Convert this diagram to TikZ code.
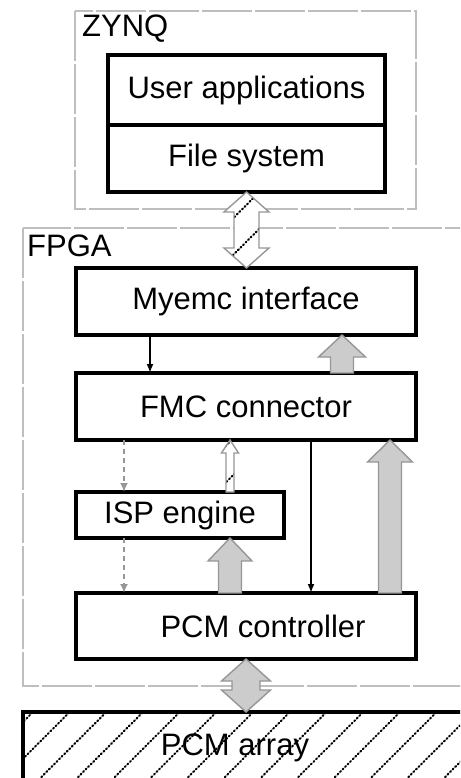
\documentclass[tikz,border=0pt]{standalone}
\usepackage{fontspec}
\setmainfont{Liberation Sans}
\usetikzlibrary{arrows.meta,calc}
\tikzset{>=latex}

% Couleurs / Colours
\definecolor{cadregris}{RGB}{190,190,190}
\definecolor{grisfond}{RGB}{204,204,204}
\definecolor{grisbord}{RGB}{150,150,150}

\tikzset{
  bloc/.style={draw=black, line width=3.4pt, inner sep=0pt, outer sep=0pt, anchor=north west},
  etiquette/.style={anchor=base west, inner sep=0pt},
  cadre/.style={draw=cadregris, line width=1.8pt, dash pattern=on 50pt off 3pt},
  filfleche/.style={-{Latex[length=9pt,width=7pt]}, black, line width=2pt},
  pointille/.style={-{Latex[length=9pt,width=8pt]}, grisbord, line width=1.8pt, dash pattern=on 5pt off 4pt},
  hachure/.style={black, line width=2pt, dash pattern=on 1.2pt off 2.4pt, line cap=round},
  % hachures calées sur l'origine / hatching tied to the origin
  hachurefond/.style={path picture={\foreach \i in {-25,...,14} \draw[hachure] ($(origine)+({-55+36.7*\i},800)$) -- ++(800,-800);}},
  grosse/.style={fill=grisfond, draw=grisbord, line width=1.4pt},
  creuse/.style={fill=white, draw=grisbord, line width=1.4pt, hachurefond},
}

% Grosse flèche verticale : [style]{départ}{pointe}{demi-largeur tige}{demi-largeur tête}{longueur tête}
% Block arrow: [style]{start}{tip}{shaft half width}{head half width}{head length}
\newcommand{\flechebloc}[6][grosse]{%
  \coordinate (fb) at ($(#3)!#6!(#2)$);
  \path[#1] ($(#2)+(-#4,0)$) -- ($(fb)+(-#4,0)$) -- ($(fb)+(-#5,0)$) -- (#3)
    -- ($(fb)+(#5,0)$) -- ($(fb)+(#4,0)$) -- ($(#2)+(#4,0)$) -- cycle;}

% Même chose avec deux pointes / Same with two heads
\newcommand{\flechedouble}[6][grosse]{%
  \coordinate (fa) at ($(#2)!#6!(#3)$);
  \coordinate (fb) at ($(#3)!#6!(#2)$);
  \path[#1] (#2) -- ($(fa)+(#5,0)$) -- ($(fa)+(#4,0)$) -- ($(fb)+(#4,0)$) -- ($(fb)+(#5,0)$) -- (#3)
    -- ($(fb)+(-#5,0)$) -- ($(fb)+(-#4,0)$) -- ($(fa)+(-#4,0)$) -- ($(fa)+(-#5,0)$) -- cycle;}

\begin{document}
\begin{tikzpicture}[x=1pt, y=-1pt, every node/.style={font=\fontsize{31}{36}\selectfont}]

% Zone de dessin (en pixels de l'image de départ)
% Drawing area (in pixels of the source picture)
\clip (0,0) rectangle (460,778);
\coordinate (origine) at (0,0);

% Cadres pointillés / Dashed frames
\draw[cadre] (75,11) rectangle (416,209);
\draw[cadre] (23,228) rectangle (490,686);
\node[etiquette] (zynq) at (82,37) {ZYNQ};
\node[etiquette] (fpga) at (27,256) {FPGA};

% Blocs / Blocks
\node[bloc, minimum width=277, minimum height=70] (user) at (108,55) {User applications};
\node[bloc, minimum width=277, minimum height=67] (fs) at (user.south west) {File system};
\node[bloc, minimum width=340, minimum height=67] (myemc) at (76,268) {Myemc interface};
\node[bloc, minimum width=340, minimum height=67] (fmc) at (76,373) {FMC connector};
\node[bloc, minimum width=208, minimum height=46] (isp) at (76,492) {ISP engine};
\node[bloc, minimum width=340, minimum height=66] (pcm) at (76,593) {\hspace*{34pt}PCM controller};
\node[bloc, minimum width=480, minimum height=72, hachurefond] (array) at (23,712) {\hspace*{-56pt}PCM array};

% Points d'attache / Attachment points
\coordinate (zq) at (myemc.north -| fs.south);
\coordinate (m1) at ($(myemc.south west)+(74,0)$);
\coordinate (f1) at ($(fmc.north west)+(74,0)$);
\coordinate (m2) at ($(myemc.south west)+(266,0)$);
\coordinate (f2) at ($(fmc.north west)+(266,0)$);
\coordinate (f3) at ($(fmc.south west)+(48,0)$);
\coordinate (i3) at ($(isp.north west)+(48,0)$);
\coordinate (f4) at ($(fmc.south west)+(154,0)$);
\coordinate (i4) at ($(isp.north west)+(154,0)$);
\coordinate (f5) at ($(fmc.south west)+(235,0)$);
\coordinate (p5) at ($(pcm.north west)+(235,0)$);
\coordinate (f6) at ($(fmc.south west)+(314,0)$);
\coordinate (p6) at ($(pcm.north west)+(314,0)$);
\coordinate (i7) at ($(isp.south west)+(48,0)$);
\coordinate (p7) at ($(pcm.north west)+(48,0)$);
\coordinate (i8) at ($(isp.south west)+(154,0)$);
\coordinate (p8) at ($(pcm.north west)+(154,0)$);
\coordinate (a9) at (array.north -| pcm.south);

% Flèches / Arrows
\flechedouble[creuse]{fs.south}{zq}{12.5}{22.5}{20pt}
\draw[filfleche] (m1) -- (f1);
\flechebloc{f2}{m2}{11.5}{23.5}{22pt}
\draw[pointille] (f3) -- (i3);
\flechebloc[creuse]{i4}{f4}{4}{8.5}{13pt}
\draw[filfleche] (f5) -- (p5);
\flechebloc{p6}{f6}{11.5}{22.5}{22pt}
\draw[pointille] (i7) -- (p7);
\flechebloc{p8}{i8}{11.5}{22}{23pt}
\flechedouble{pcm.south}{a9}{14}{24.5}{22pt}

\end{tikzpicture}
\end{document}
